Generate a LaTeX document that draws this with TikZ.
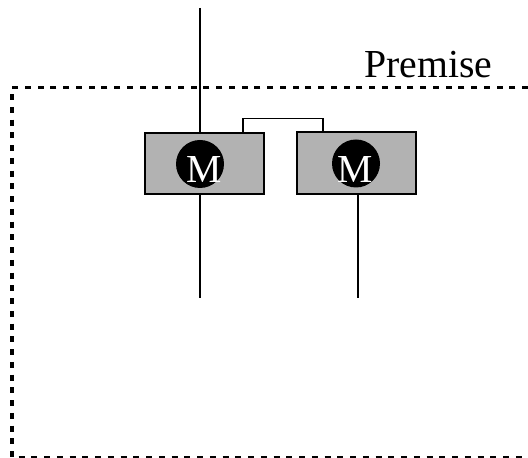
\documentclass[tikz,border=0pt]{standalone}
\usepackage{fontspec}
\setmainfont{Liberation Serif}
\usetikzlibrary{positioning}
\tikzset{
	motorbox/.style={draw,line width=0.04cm,fill=black!30,inner sep=0pt,minimum width=2.37cm,minimum height=1.22cm},
	motordot/.style={circle,fill=black,inner sep=0pt,minimum size=0.96cm},
	motorlabel/.style={text=white,inner sep=0pt,font=\fontsize{22.6pt}{22.6pt}\selectfont},
	wire/.style={line width=0.03cm},
	premiseline/.style={line width=0.065cm,dash pattern=on 0.12cm off 0.135cm}
}
\begin{document}
\begin{tikzpicture}
	\useasboundingbox (0,0) rectangle (10.56,9.16);
	\coordinate (premiseA) at (10.56,7.41);
	\coordinate (premiseB) at (0.24,7.41);
	\coordinate (premiseC) at (0.24,0.015);
	\coordinate (premiseD) at (10.56,0.015);
	\draw[premiseline] (premiseA)--(premiseB)--(premiseC)--(premiseD);
	\node[anchor=base,inner sep=0pt,font=\fontsize{22.6pt}{22.6pt}\selectfont] (premise) at (8.57,7.6) {Premise};
	\node[motorbox] (boxA) at (4.085,5.88) {};
	\node[motorbox,minimum width=2.38cm,minimum height=1.23cm] (boxB) at (7.13,5.895) {};
	\node[motordot] (dotA) at (4,5.88) {};
	\node[motordot] (dotB) at (7.12,5.89) {};
	\node[motorlabel] (mA) at (4.09,5.76) {M};
	\node[motorlabel] (mB) at (7.1,5.77) {M};
	\coordinate (wireAtop) at (4,9);
	\coordinate (wireAbot) at (4,3.2);
	\coordinate (wireBbot) at (7.16,3.2);
	\coordinate (linkA) at (4.86,6.49);
	\coordinate (linkB) at (6.46,6.51);
	\coordinate (linkAup) at (4.86,6.79);
	\coordinate (linkBup) at (6.46,6.79);
	\draw[wire] (wireAtop)--(wireAtop|-boxA.north);
	\draw[wire] (wireAbot|-boxA.south)--(wireAbot);
	\draw[wire] (wireBbot|-boxB.south)--(wireBbot);
	\draw[wire] (linkA)--(linkAup)--(linkBup)--(linkB);
\end{tikzpicture}
\end{document}
